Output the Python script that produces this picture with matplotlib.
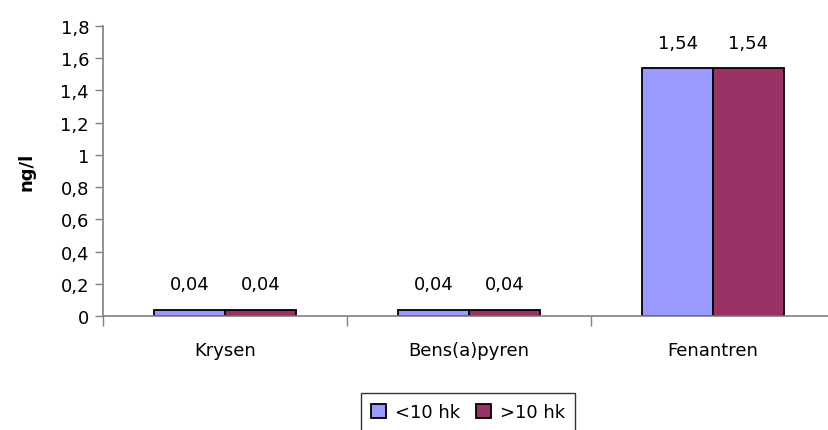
import matplotlib
matplotlib.use("Agg")
import matplotlib.pyplot as plt
import numpy as np
from matplotlib.ticker import FuncFormatter, FixedLocator

categories = ["Krysen", "Bens(a)pyren", "Fenantren"]
series_names = ["<10 hk", ">10 hk"]
low = [0.04, 0.04, 1.54]
high = [0.04, 0.04, 1.54]
value_labels_low = ["0,04", "0,04", "1,54"]
value_labels_high = ["0,04", "0,04", "1,54"]
yticks = [0, 0.2, 0.4, 0.6, 0.8, 1.0, 1.2, 1.4, 1.6, 1.8]

plt.rcParams['font.family'] = ['DejaVu Sans']
FS = 13

fig = plt.figure(figsize=(8.29, 4.31), dpi=100)
ax = fig.add_axes([103/829, (431-317)/431, 732/829, 290/431])

x = np.arange(len(categories))
w = 0.29
c1 = "#9999FF"
c2 = "#993366"
b1 = ax.bar(x - w/2, low, w, color=c1, edgecolor="black", linewidth=1.3, label=series_names[0])
b2 = ax.bar(x + w/2, high, w, color=c2, edgecolor="black", linewidth=1.3, label=series_names[1])

for xi, v, t in zip(x - w/2, low, value_labels_low):
    ax.text(xi, v + 0.1, t, ha="center", va="bottom", fontsize=FS)
for xi, v, t in zip(x + w/2, high, value_labels_high):
    ax.text(xi, v + 0.1, t, ha="center", va="bottom", fontsize=FS)

ax.set_xlim(-0.5, len(categories) - 0.5)
ax.set_ylim(0, 1.8)
ax.yaxis.set_major_locator(FixedLocator(yticks))
ax.yaxis.set_major_formatter(FuncFormatter(lambda v, p: ("%g" % round(v, 1)).replace(".", ",")))

ax.set_xticks(x)
ax.set_xticklabels(categories, fontsize=FS)
ax.tick_params(axis="x", length=0, pad=18)
ax.set_xticks(np.arange(len(categories) + 1) - 0.5, minor=True)
ax.tick_params(axis="x", which="minor", length=7, color="#808080", width=1)
ax.tick_params(axis="y", length=6, color="#808080", width=1, labelsize=FS, pad=4)

for s in ["top", "right"]:
    ax.spines[s].set_visible(False)
for s in ["left", "bottom"]:
    ax.spines[s].set_color("#808080")
    ax.spines[s].set_linewidth(1.2)

ax.set_ylabel("ng/l", fontsize=FS, fontweight="bold", labelpad=18)

leg = fig.legend(handles=[b1, b2], labels=series_names, loc="upper center",
                 bbox_to_anchor=(468/829, (431-394)/431), ncol=2, fontsize=FS,
                 frameon=True, fancybox=False, edgecolor="black",
                 handlelength=0.8, handleheight=0.8, handletextpad=0.5,
                 columnspacing=0.9, borderpad=0.55, borderaxespad=0)
leg.get_frame().set_linewidth(1.0)

fig.savefig("out.png", dpi=100)
